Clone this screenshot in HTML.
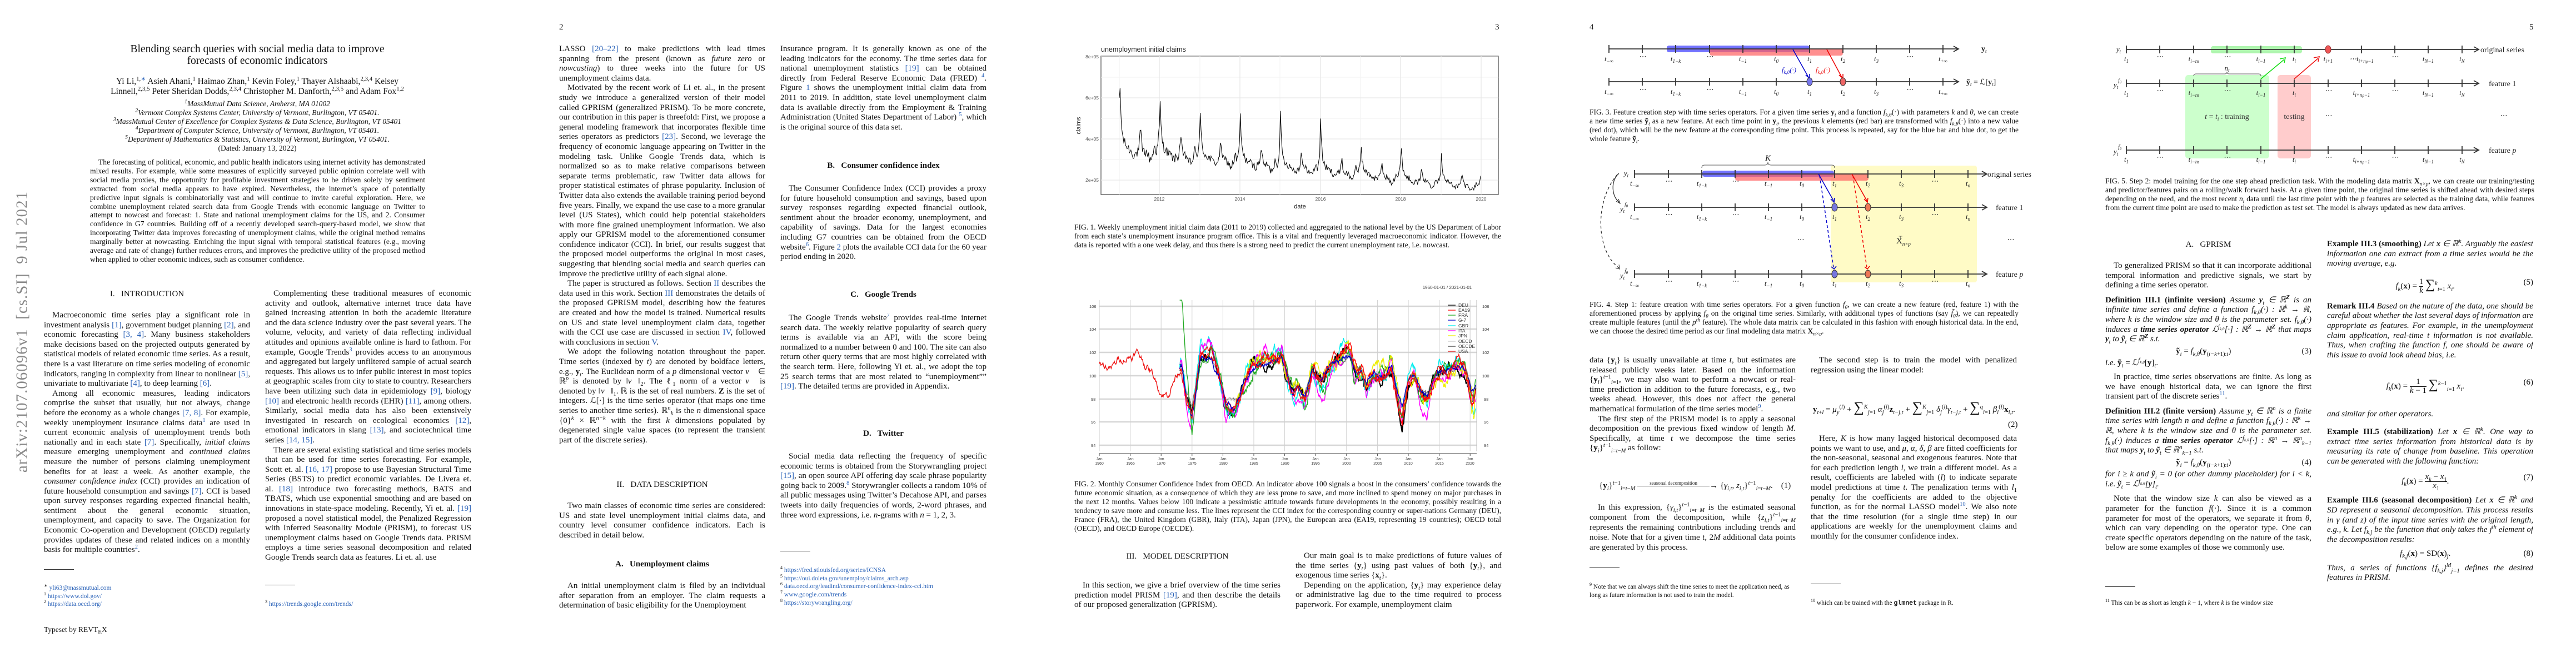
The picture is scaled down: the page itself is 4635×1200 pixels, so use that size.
<!DOCTYPE html>
<html lang="en"><head><meta charset="utf-8">
<style>
html,body{margin:0;padding:0;background:#fff;}
#pg{position:relative;width:4635px;height:1200px;overflow:hidden;background:#fff;font-family:"Liberation Serif",serif;color:#111;}
sup,sub{line-height:0;font-size:70%;}
.c{position:absolute;width:371px;font-size:15px;line-height:17.6px;text-align:justify;overflow:hidden;hyphens:auto;}
.c p{margin:0;text-indent:15px;}
.c p.n{text-indent:0;}
.h{position:absolute;width:371px;text-align:center;font-size:15px;line-height:18px;}
.hb{font-weight:bold;}
.cap{position:absolute;width:772px;font-size:13.5px;line-height:16px;text-align:justify;overflow:hidden;}
.fn{position:absolute;font-size:11.5px;line-height:14.7px;width:371px;}
.rule{position:absolute;height:1px;width:54px;background:#333;}
.pn{position:absolute;top:41px;font-size:15px;}
.b{color:#2a62b8;}
i{font-style:italic;}
.ctr{position:absolute;text-align:center;white-space:nowrap;}
.eq{position:absolute;font-size:15px;white-space:nowrap;}
svg{position:absolute;left:0;top:0;}
</style></head><body><div id="pg">

<svg id="sv" width="4635" height="1200" viewBox="0 0 4635 1200" font-family="Liberation Serif">
<!-- FIG 1 -->
<g id="f1">
<text x="1981" y="93" font-family="Liberation Sans" font-size="12.5" fill="#222">unemployment initial claims</text>
<rect x="1981" y="101" width="715" height="249" fill="#fff" stroke="#555" stroke-width="1.3"/>
<g stroke="#f2f2f2" stroke-width="1">
<line x1="1981" x2="2696" y1="139" y2="139"/><line x1="1981" x2="2696" y1="213" y2="213"/><line x1="1981" x2="2696" y1="287" y2="287"/>
<line x1="2014" x2="2014" y1="101" y2="350"/><line x1="2159" x2="2159" y1="101" y2="350"/><line x1="2303" x2="2303" y1="101" y2="350"/><line x1="2448" x2="2448" y1="101" y2="350"/><line x1="2593" x2="2593" y1="101" y2="350"/>
</g>
<g stroke="#e6e6e6" stroke-width="1.3">
<line x1="1981" x2="2696" y1="102" y2="102"/><line x1="1981" x2="2696" y1="176" y2="176"/><line x1="1981" x2="2696" y1="250" y2="250"/><line x1="1981" x2="2696" y1="324" y2="324"/>
<line x1="2086" x2="2086" y1="101" y2="350"/><line x1="2231" x2="2231" y1="101" y2="350"/><line x1="2376" x2="2376" y1="101" y2="350"/><line x1="2520" x2="2520" y1="101" y2="350"/><line x1="2665" x2="2665" y1="101" y2="350"/>
</g>
<g font-family="Liberation Sans" font-size="8.5" fill="#555" text-anchor="end">
<text x="1977" y="105">8e+05</text><text x="1977" y="179">6e+05</text><text x="1977" y="253">4e+05</text><text x="1977" y="327">2e+05</text>
</g>
<g font-family="Liberation Sans" font-size="8.5" fill="#555" text-anchor="middle">
<text x="2086" y="361">2012</text><text x="2231" y="361">2014</text><text x="2376" y="361">2016</text><text x="2520" y="361">2018</text><text x="2665" y="361">2020</text>
</g>
<text x="2339" y="375" font-family="Liberation Sans" font-size="11" text-anchor="middle" fill="#222">date</text>
<text transform="translate(1944,226) rotate(-90)" font-family="Liberation Sans" font-size="11" text-anchor="middle" fill="#222">claims</text>
<polyline id="l1" fill="none" stroke="#111" stroke-width="1.1" points=""/>
</g>

<!-- FIG 2 -->
<g id="f2">
<text x="2604" y="520" font-family="Liberation Sans" font-size="8" text-anchor="middle" fill="#333">1960-01-01 / 2021-01-01</text>
<g stroke="#d6d6d6" stroke-width="2.5">
<line x1="1977" x2="2657" y1="551" y2="551"/><line x1="1977" x2="2657" y1="592" y2="592"/><line x1="1977" x2="2657" y1="634" y2="634"/><line x1="1977" x2="2657" y1="676" y2="676"/><line x1="1977" x2="2657" y1="718" y2="718"/><line x1="1977" x2="2657" y1="759" y2="759"/><line x1="1977" x2="2657" y1="801" y2="801"/>
</g>
<g id="vg" stroke="#cfcfcf" stroke-width="1"></g>
<line x1="2657" x2="2657" y1="540" y2="812" stroke="#bbb" stroke-width="1"/>
<g font-family="Liberation Sans" font-size="7.5" fill="#444">
<text x="1960" y="554">106</text><text x="1960" y="595">104</text><text x="1960" y="637">102</text><text x="1960" y="679">100</text><text x="1963" y="721">98</text><text x="1963" y="762">96</text><text x="1963" y="804">94</text>
<text x="2667" y="554">106</text><text x="2667" y="595">104</text><text x="2667" y="637">102</text><text x="2667" y="679">100</text><text x="2670" y="721">98</text><text x="2670" y="762">96</text><text x="2670" y="804">94</text>
</g>
<line x1="1977" x2="2657" y1="816" y2="816" stroke="#444" stroke-width="1"/>
<g id="xt" font-family="Liberation Sans" font-size="7" fill="#444" text-anchor="middle">
<text x="1978" y="828">Jan</text><text x="1978" y="836">1960</text>
<text x="2034" y="828">Jan</text><text x="2034" y="836">1965</text>
<text x="2089" y="828">Jan</text><text x="2089" y="836">1970</text>
<text x="2145" y="828">Jan</text><text x="2145" y="836">1975</text>
<text x="2201" y="828">Jan</text><text x="2201" y="836">1980</text>
<text x="2256" y="828">Jan</text><text x="2256" y="836">1985</text>
<text x="2312" y="828">Jan</text><text x="2312" y="836">1990</text>
<text x="2367" y="828">Jan</text><text x="2367" y="836">1995</text>
<text x="2423" y="828">Jan</text><text x="2423" y="836">2000</text>
<text x="2479" y="828">Jan</text><text x="2479" y="836">2005</text>
<text x="2534" y="828">Jan</text><text x="2534" y="836">2010</text>
<text x="2590" y="828">Jan</text><text x="2590" y="836">2015</text>
<text x="2645" y="828">Jan</text><text x="2645" y="836">2020</text>
</g>
<g id="cci"></g>
<g font-family="Liberation Sans" font-size="8.5" fill="#333">
<line x1="2605" x2="2619" y1="549" y2="549" stroke="#000" stroke-width="1.3"/><text x="2624" y="552">DEU</text>
<line x1="2605" x2="2619" y1="558" y2="558" stroke="#f00" stroke-width="1.3"/><text x="2624" y="561">EA19</text>
<line x1="2605" x2="2619" y1="567" y2="567" stroke="#2a2" stroke-width="1.3"/><text x="2624" y="570">FRA</text>
<line x1="2605" x2="2619" y1="576" y2="576" stroke="#00c" stroke-width="1.3"/><text x="2624" y="579">G-7</text>
<line x1="2605" x2="2619" y1="586" y2="586" stroke="#0ee" stroke-width="1.3"/><text x="2624" y="589">GBR</text>
<line x1="2605" x2="2619" y1="595" y2="595" stroke="#f0f" stroke-width="1.3"/><text x="2624" y="598">ITA</text>
<line x1="2605" x2="2619" y1="604" y2="604" stroke="#ee0" stroke-width="1.3"/><text x="2624" y="607">JPN</text>
<line x1="2605" x2="2619" y1="614" y2="614" stroke="#ccc" stroke-width="1.3"/><text x="2624" y="617">OECD</text>
<line x1="2605" x2="2619" y1="623" y2="623" stroke="#777" stroke-width="1.8"/><text x="2624" y="626">OECDE</text>
<line x1="2605" x2="2619" y1="632" y2="632" stroke="#d11" stroke-width="1.3"/><text x="2624" y="635">USA</text>
</g>
</g>

<!-- FIG 3 -->
<g id="f3">
<rect x="2999" y="82" width="257" height="12" rx="4" fill="#5a5aff" opacity="0.85"/>
<rect x="3076" y="88" width="240" height="12" rx="4" fill="#ff6060" opacity="0.7"/>
<g stroke="#333" stroke-width="1.8" fill="none">
<line x1="2895" x2="3522" y1="88" y2="88"/><path d="M3515 83 L3524 88 L3515 93"/>
<path d="M2895 81v14M2955 81v14M3015 81v14M3076 81v14M3136 81v14M3196 81v14M3256 81v14M3316 81v14M3376 81v14M3436 81v14M3496 81v14"/>
<line x1="2895" x2="3522" y1="147" y2="147"/><path d="M3515 142 L3524 147 L3515 152"/>
<path d="M2895 140v14M2955 140v14M3015 140v14M3076 140v14M3136 140v14M3196 140v14M3256 140v14M3316 140v14M3376 140v14M3436 140v14M3496 140v14"/>
</g>
<line x1="3226" y1="89" x2="3254" y2="139" stroke="#00c" stroke-width="1.5"/><path d="M3249 135 L3256 141 L3256 133" stroke="#00c" fill="none" stroke-width="1.5"/>
<line x1="3287" y1="89" x2="3314" y2="139" stroke="#e00" stroke-width="1.5"/><path d="M3309 135 L3316 141 L3316 133" stroke="#e00" fill="none" stroke-width="1.5"/>
<ellipse cx="3256" cy="147" rx="5" ry="7" fill="#7777ee" stroke="#333"/><ellipse cx="3316" cy="147" rx="5" ry="7" fill="#ee6666" stroke="#333"/>
<text x="3219" y="130" font-size="13" font-style="italic" fill="#22c" text-anchor="middle">f<tspan font-size="9" dy="3">k,θ</tspan><tspan dy="-3">(·)</tspan></text>
<text x="3280" y="130" font-size="13" font-style="italic" fill="#e22" text-anchor="middle">f<tspan font-size="9" dy="3">k,θ</tspan><tspan dy="-3">(·)</tspan></text>
<g font-size="13" font-style="italic" text-anchor="middle" fill="#222">
<text x="2895" y="110">t<tspan font-size="9" dy="3">−∞</tspan></text><text x="2955" y="106">⋯</text><text x="3015" y="110">t<tspan font-size="9" dy="3">1−k</tspan></text><text x="3076" y="106">⋯</text><text x="3136" y="110">t<tspan font-size="9" dy="3">−1</tspan></text><text x="3196" y="110">t<tspan font-size="9" dy="3">0</tspan></text><text x="3256" y="110">t<tspan font-size="9" dy="3">1</tspan></text><text x="3316" y="110">t<tspan font-size="9" dy="3">2</tspan></text><text x="3376" y="110">t<tspan font-size="9" dy="3">3</tspan></text><text x="3436" y="106">⋯</text><text x="3496" y="110">t<tspan font-size="9" dy="3">+∞</tspan></text>
<text x="2895" y="169">t<tspan font-size="9" dy="3">−∞</tspan></text><text x="2955" y="165">⋯</text><text x="3015" y="169">t<tspan font-size="9" dy="3">1−k</tspan></text><text x="3076" y="165">⋯</text><text x="3136" y="169">t<tspan font-size="9" dy="3">−1</tspan></text><text x="3196" y="169">t<tspan font-size="9" dy="3">0</tspan></text><text x="3256" y="169">t<tspan font-size="9" dy="3">1</tspan></text><text x="3316" y="169">t<tspan font-size="9" dy="3">2</tspan></text><text x="3376" y="169">t<tspan font-size="9" dy="3">3</tspan></text><text x="3436" y="165">⋯</text><text x="3496" y="169">t<tspan font-size="9" dy="3">+∞</tspan></text>
</g>
<text x="3565" y="92" font-size="14" fill="#222" font-weight="bold">y<tspan font-size="9" dy="3" font-style="italic" font-weight="normal">t</tspan></text>
<text x="3538" y="152" font-size="14" fill="#222"><tspan font-weight="bold">ỹ</tspan><tspan font-size="9" dy="3" font-style="italic">t</tspan><tspan dy="-3"> = ℒ[</tspan><tspan font-weight="bold">y</tspan><tspan font-size="9" dy="3" font-style="italic">t</tspan><tspan dy="-3">]</tspan></text>
</g>

<!-- FIG 4 -->
<g id="f4">
<rect x="3294" y="298" width="263" height="210" rx="4" fill="#fffbc6"/>
<path d="M3062 302 q0 -5 5 -5 h108 q6 0 6 -5 q0 5 6 5 h109 q5 0 5 5" fill="none" stroke="#555" stroke-width="1"/>
<text x="3181" y="289" font-size="15" font-style="italic" text-anchor="middle" fill="#222">K</text>
<rect x="3063" y="307" width="237" height="11" rx="4" fill="#5a5aff" opacity="0.85"/>
<rect x="3122" y="312" width="240" height="13" rx="4" fill="#ff6060" opacity="0.7"/>
<g stroke="#333" stroke-width="1.8" fill="none">
<line x1="2941" x2="3573" y1="313" y2="313"/><path d="M3566 308 L3575 313 L3566 318"/>
<line x1="2941" x2="3573" y1="373" y2="373"/><path d="M3566 368 L3575 373 L3566 378"/>
<line x1="2941" x2="3573" y1="493" y2="493"/><path d="M3566 488 L3575 493 L3566 498"/>
<path d="M2941 306v14M3002 306v14M3062 306v14M3122 306v14M3182 306v14M3242 306v14M3301 306v14M3361 306v14M3421 306v14M3481 306v14M3541 306v14"/>
<path d="M2941 366v14M3002 366v14M3062 366v14M3122 366v14M3182 366v14M3242 366v14M3301 366v14M3361 366v14M3421 366v14M3481 366v14M3541 366v14"/>
<path d="M2941 486v14M3002 486v14M3062 486v14M3122 486v14M3182 486v14M3242 486v14M3301 486v14M3361 486v14M3421 486v14M3481 486v14M3541 486v14"/>
</g>
<line x1="3272" y1="313" x2="3299" y2="361" stroke="#00c" stroke-width="1.5"/><path d="M3294 358 L3300 364 L3301 356" stroke="#00c" fill="none" stroke-width="1.5"/>
<line x1="3332" y1="313" x2="3359" y2="361" stroke="#e00" stroke-width="1.5"/><path d="M3354 358 L3360 364 L3361 356" stroke="#e00" fill="none" stroke-width="1.5"/>
<line x1="3274" y1="316" x2="3299" y2="481" stroke="#00c" stroke-width="1.5" stroke-dasharray="5,4"/><path d="M3295 480 L3300 484 L3304 479" stroke="#00c" fill="none" stroke-width="1.5"/>
<line x1="3334" y1="316" x2="3359" y2="481" stroke="#e00" stroke-width="1.5" stroke-dasharray="5,4"/><path d="M3355 480 L3360 484 L3364 479" stroke="#e00" fill="none" stroke-width="1.5"/>
<ellipse cx="3301" cy="373" rx="5" ry="7" fill="#7777dd" stroke="#333"/><ellipse cx="3361" cy="373" rx="5" ry="7" fill="#ee7755" stroke="#333"/>
<ellipse cx="3301" cy="493" rx="5" ry="7" fill="#7777dd" stroke="#333"/><ellipse cx="3361" cy="493" rx="5" ry="7" fill="#ee7755" stroke="#333"/>
<path d="M2913 312 C2897 325 2900 355 2914 364" stroke="#222" fill="none" stroke-width="1.2"/><path d="M2908 362 L2915 366 L2912 358" stroke="#222" fill="none"/>
<path d="M2910 314 C2870 360 2870 450 2913 482" stroke="#222" fill="none" stroke-width="1.2" stroke-dasharray="5,4"/><path d="M2907 482 L2914 484 L2913 476" stroke="#222" fill="none"/>
<g font-size="13" font-style="italic" text-anchor="middle" fill="#222">
<text x="2941" y="334">t<tspan font-size="9" dy="3">−∞</tspan></text><text x="3002" y="330">⋯</text><text x="3062" y="334">t<tspan font-size="9" dy="3">1−k</tspan></text><text x="3122" y="330">⋯</text><text x="3182" y="334">t<tspan font-size="9" dy="3">−1</tspan></text><text x="3242" y="334">t<tspan font-size="9" dy="3">0</tspan></text><text x="3301" y="334">t<tspan font-size="9" dy="3">1</tspan></text><text x="3361" y="334">t<tspan font-size="9" dy="3">2</tspan></text><text x="3421" y="334">t<tspan font-size="9" dy="3">3</tspan></text><text x="3481" y="330">⋯</text><text x="3541" y="334">t<tspan font-size="9" dy="3">n</tspan></text>
<text x="2941" y="394">t<tspan font-size="9" dy="3">−∞</tspan></text><text x="3002" y="390">⋯</text><text x="3062" y="394">t<tspan font-size="9" dy="3">1−k</tspan></text><text x="3122" y="390">⋯</text><text x="3182" y="394">t<tspan font-size="9" dy="3">−1</tspan></text><text x="3242" y="394">t<tspan font-size="9" dy="3">0</tspan></text><text x="3301" y="394">t<tspan font-size="9" dy="3">1</tspan></text><text x="3361" y="394">t<tspan font-size="9" dy="3">2</tspan></text><text x="3421" y="394">t<tspan font-size="9" dy="3">3</tspan></text><text x="3481" y="390">⋯</text><text x="3541" y="394">t<tspan font-size="9" dy="3">n</tspan></text>
<text x="2941" y="514">t<tspan font-size="9" dy="3">−∞</tspan></text><text x="3002" y="510">⋯</text><text x="3062" y="514">t<tspan font-size="9" dy="3">1−k</tspan></text><text x="3122" y="510">⋯</text><text x="3182" y="514">t<tspan font-size="9" dy="3">−1</tspan></text><text x="3242" y="514">t<tspan font-size="9" dy="3">0</tspan></text><text x="3301" y="514">t<tspan font-size="9" dy="3">1</tspan></text><text x="3361" y="514">t<tspan font-size="9" dy="3">2</tspan></text><text x="3421" y="514">t<tspan font-size="9" dy="3">3</tspan></text><text x="3481" y="510">⋯</text><text x="3541" y="514">t<tspan font-size="9" dy="3">n</tspan></text>
<text x="3239" y="435">⋯</text><text x="3617" y="435">⋯</text>
<text x="2926" y="316">y<tspan font-size="9" dy="3">t</tspan></text>
<text x="2922" y="380">y<tspan font-size="9" dy="3">t</tspan><tspan font-size="9" dy="-12">f</tspan><tspan font-size="7" dy="2">θ</tspan></text>
<text x="2922" y="500">y<tspan font-size="9" dy="3">t</tspan><tspan font-size="9" dy="-12">f̃</tspan><tspan font-size="7" dy="2">θ</tspan></text>
</g>
<text x="3412" y="438" font-size="15" fill="#222">X<tspan font-size="9" dy="4" font-style="italic">n×p</tspan><tspan font-size="9" dx="-22" dy="-11">⊤</tspan></text>
<g font-size="14" fill="#222"><text x="3576" y="318">original series</text><text x="3591" y="378">feature 1</text><text x="3591" y="498">feature <tspan font-style="italic">p</tspan></text></g>
</g>

<!-- FIG 5 -->
<g id="f5">
<rect x="3978" y="83" width="164" height="13" rx="4" fill="#aef5ae"/>
<rect x="3932" y="135" width="151" height="150" rx="5" fill="#ccffcc"/>
<rect x="4098" y="135" width="60" height="150" rx="5" fill="#ffcccc"/>
<path d="M3947 137 q0 -4 4 -4 h52 q4 0 4 -4 q0 4 4 4 h53 q4 0 4 4" fill="none" stroke="#555" stroke-width="1"/>
<text x="4007" y="127" font-size="13" font-style="italic" text-anchor="middle" fill="#222">n<tspan font-size="9" dy="3">t</tspan></text>
<g stroke="#333" stroke-width="1.8" fill="none">
<line x1="3826" x2="4458" y1="89" y2="89"/><path d="M4451 84 L4460 89 L4451 94"/>
<line x1="3826" x2="4458" y1="150" y2="150"/><path d="M4451 145 L4460 150 L4451 155"/>
<line x1="3826" x2="4458" y1="270" y2="270"/><path d="M4451 265 L4460 270 L4451 275"/>
<path d="M3826 82v14M3886 82v14M3947 82v14M4007 82v14M4068 82v14M4128 82v14M4189 82v14M4249 82v14M4309 82v14M4369 82v14M4430 82v14"/>
<path d="M3826 143v14M3886 143v14M3947 143v14M4007 143v14M4068 143v14M4128 143v14M4189 143v14M4249 143v14M4309 143v14M4369 143v14M4430 143v14"/>
<path d="M3826 263v14M3886 263v14M3947 263v14M4007 263v14M4068 263v14M4128 263v14M4189 263v14M4249 263v14M4309 263v14M4369 263v14M4430 263v14"/>
</g>
<ellipse cx="4189" cy="89" rx="5" ry="7" fill="#ee5555" stroke="#933"/>
<line x1="4068" y1="142" x2="4110" y2="107" stroke="#1d1" stroke-width="1.5"/><path d="M4102 106 L4112 104 L4110 113" stroke="#1d1" fill="none" stroke-width="1.5"/>
<line x1="4128" y1="142" x2="4171" y2="105" stroke="#e11" stroke-width="1.5"/><path d="M4163 104 L4173 102 L4171 111" stroke="#e11" fill="none" stroke-width="1.5"/>
<g font-size="13" font-style="italic" text-anchor="middle" fill="#222">
<text x="3826" y="110">t<tspan font-size="9" dy="3">1</tspan></text><text x="3886" y="106">⋯</text><text x="3947" y="110">t<tspan font-size="9" dy="3">i−n<tspan font-size="7">t</tspan></tspan></text><text x="4007" y="106">⋯</text><text x="4068" y="110">t<tspan font-size="9" dy="3">i−1</tspan></text><text x="4128" y="110">t<tspan font-size="9" dy="3">i</tspan></text><text x="4189" y="110">t<tspan font-size="9" dy="3">i+1</tspan></text><text x="4249" y="110">⋯t<tspan font-size="9" dy="3">i+n<tspan font-size="7">p</tspan>−1</tspan></text><text x="4309" y="106">⋯</text><text x="4369" y="110">t<tspan font-size="9" dy="3">N−1</tspan></text><text x="4430" y="110">t<tspan font-size="9" dy="3">N</tspan></text>
<text x="3826" y="171">t<tspan font-size="9" dy="3">1</tspan></text><text x="3886" y="167">⋯</text><text x="3947" y="171">t<tspan font-size="9" dy="3">i−n<tspan font-size="7">t</tspan></tspan></text><text x="4007" y="167">⋯</text><text x="4068" y="171">t<tspan font-size="9" dy="3">i−1</tspan></text><text x="4128" y="171">t<tspan font-size="9" dy="3">i</tspan></text><text x="4189" y="167">⋯</text><text x="4249" y="171">t<tspan font-size="9" dy="3">i+n<tspan font-size="7">p</tspan>−1</tspan></text><text x="4309" y="167">⋯</text><text x="4369" y="171">t<tspan font-size="9" dy="3">N−1</tspan></text><text x="4430" y="171">t<tspan font-size="9" dy="3">N</tspan></text>
<text x="3826" y="291">t<tspan font-size="9" dy="3">1</tspan></text><text x="3886" y="287">⋯</text><text x="3947" y="291">t<tspan font-size="9" dy="3">i−n<tspan font-size="7">t</tspan></tspan></text><text x="4007" y="287">⋯</text><text x="4068" y="291">t<tspan font-size="9" dy="3">i−1</tspan></text><text x="4128" y="291">t<tspan font-size="9" dy="3">i</tspan></text><text x="4189" y="287">⋯</text><text x="4249" y="291">t<tspan font-size="9" dy="3">i+n<tspan font-size="7">p</tspan>−1</tspan></text><text x="4309" y="287">⋯</text><text x="4369" y="291">t<tspan font-size="9" dy="3">N−1</tspan></text><text x="4430" y="291">t<tspan font-size="9" dy="3">N</tspan></text>
<text x="4189" y="212">⋯</text><text x="4504" y="212">⋯</text>
<text x="3812" y="93">y<tspan font-size="9" dy="3">t</tspan></text>
<text x="3810" y="157">y<tspan font-size="9" dy="3">t</tspan><tspan font-size="9" dy="-12">f</tspan><tspan font-size="7" dy="2">θ</tspan></text>
<text x="3810" y="277">y<tspan font-size="9" dy="3">t</tspan><tspan font-size="9" dy="-12">f̃</tspan><tspan font-size="7" dy="2">θ</tspan></text>
</g>
<text x="4007" y="214" font-size="14" text-anchor="middle" fill="#333"><tspan font-style="italic">t</tspan> = <tspan font-style="italic">t<tspan font-size="9" dy="3">i</tspan></tspan><tspan dy="-3"> : training</tspan></text>
<text x="4128" y="214" font-size="14" text-anchor="middle" fill="#333">testing</text>
<g font-size="14" fill="#222"><text x="4463" y="94">original series</text><text x="4478" y="155">feature 1</text><text x="4478" y="275">feature <tspan font-style="italic">p</tspan></text></g>
</g>
</svg>

<!-- ============ PAGE 1 ============ -->
<div style="position:absolute;left:40px;top:597px;transform:translate(-50%,-50%) rotate(-90deg);font-size:29px;color:#8a8a8a;white-space:nowrap;letter-spacing:1px;">arXiv:2107.06096v1 &nbsp;[cs.SI] &nbsp;9 Jul 2021</div>
<div class="ctr" style="left:163px;width:600px;top:78px;font-size:19.5px;line-height:21px;">Blending search queries with social media data to improve<br>forecasts of economic indicators</div>
<div class="ctr" style="left:150px;width:626px;top:138px;font-size:15.5px;line-height:18px;">Yi Li,<sup>1,<span class="b">∗</span></sup> Asieh Ahani,<sup>1</sup> Haimao Zhan,<sup>1</sup> Kevin Foley,<sup>1</sup> Thayer Alshaabi,<sup>2,3,4</sup> Kelsey<br>Linnell,<sup>2,3,5</sup> Peter Sheridan Dodds,<sup>2,3,4</sup> Christopher M. Danforth,<sup>2,3,5</sup> and Adam Fox<sup>1,2</sup></div>
<div class="ctr" style="left:150px;width:626px;top:179px;font-size:13.5px;line-height:16px;font-style:italic;"><sup>1</sup>MassMutual Data Science, Amherst, MA 01002<br><sup>2</sup>Vermont Complex Systems Center, University of Vermont, Burlington, VT 05401.<br><sup>3</sup>MassMutual Center of Excellence for Complex Systems &amp; Data Science, Burlington, VT 05401<br><sup>4</sup>Department of Computer Science, University of Vermont, Burlington, VT 05401.<br><sup>5</sup>Department of Mathematics &amp; Statistics, University of Vermont, Burlington, VT 05401.<br><span style="font-style:normal">(Dated: January 13, 2022)</span></div>
<div class="c" style="left:162px;top:284px;width:603px;font-size:13.6px;line-height:15.9px;height:207px;"><p>The forecasting of political, economic, and public health indicators using internet activity has demonstrated mixed results. For example, while some measures of explicitly surveyed public opinion correlate well with social media proxies, the opportunity for profitable investment strategies to be driven solely by sentiment extracted from social media appears to have expired. Nevertheless, the internet’s space of potentially predictive input signals is combinatorially vast and will continue to invite careful exploration. Here, we combine unemployment related search data from Google Trends with economic language on Twitter to attempt to nowcast and forecast: 1. State and national unemployment claims for the US, and 2. Consumer confidence in G7 countries. Building off of a recently developed search-query-based model, we show that incorporating Twitter data improves forecasting of unemployment claims, while the original method remains marginally better at nowcasting. Enriching the input signal with temporal statistical features (e.g., moving average and rate of change) further reduces errors, and improves the predictive utility of the proposed method when applied to other economic indices, such as consumer confidence.</p></div>
<div class="h" style="left:79px;top:520px;">I.&nbsp;&nbsp; INTRODUCTION</div>
<div class="c" style="left:79px;top:559px;height:440px;"><p>Macroeconomic time series play a significant role in investment analysis <span class="b">[1]</span>, government budget planning <span class="b">[2]</span>, and economic forecasting <span class="b">[3, 4]</span>. Many business stakeholders make decisions based on the projected outputs generated by statistical models of related economic time series. As a result, there is a vast literature on time series modeling of economic indicators, ranging in complexity from linear to nonlinear <span class="b">[5]</span>, univariate to multivariate <span class="b">[4]</span>, to deep learning <span class="b">[6]</span>.</p><p>Among all economic measures, leading indicators comprise the subset that usually, but not always, change before the economy as a whole changes <span class="b">[7, 8]</span>. For example, weekly unemployment insurance claims data<sup class="b">1</sup> are used in current economic analysis of unemployment trends both nationally and in each state <span class="b">[7]</span>. Specifically, <i>initial claims</i> measure emerging unemployment and <i>continued claims</i> measure the number of persons claiming unemployment benefits for at least a week. As another example, the <i>consumer confidence index</i> (CCI) provides an indication of future household consumption and savings <span class="b">[7]</span>. CCI is based upon survey responses regarding expected financial health, sentiment about the general economic situation, unemployment, and capacity to save. The Organization for Economic Co-operation and Development (OECD) regularly provides updates of these and related indices on a monthly basis for multiple countries<sup class="b">2</sup>.</p></div>
<div class="rule" style="left:79px;top:1024px;"></div>
<div class="fn" style="left:79px;top:1051px;"><sup>∗</sup> <span class="b">yli63@massmutual.com</span><br><sup>1</sup> <span class="b">https://www.dol.gov/</span><br><sup>2</sup> <span class="b">https://data.oecd.org/</span></div>
<div style="position:absolute;left:79px;top:1125px;font-size:13.5px;">Typeset by REVT<sub style="font-size:11px">E</sub>X</div>
<div class="c" style="left:477px;top:520px;height:510px;"><p>Complementing these traditional measures of economic activity and outlook, alternative internet trace data have gained increasing attention in both the academic literature and the data science industry over the past several years. The volume, velocity, and variety of data reflecting individual attitudes and opinions available online is hard to fathom. For example, Google Trends<sup class="b">3</sup> provides access to an anonymous and aggregated but largely unfiltered sample of actual search requests. This allows us to infer public interest in most topics at geographic scales from city to state to country. Researchers have been utilizing such data in epidemiology <span class="b">[9]</span>, biology <span class="b">[10]</span> and electronic health records (EHR) <span class="b">[11]</span>, among others. Similarly, social media data has also been extensively investigated in research on ecological economics <span class="b">[12]</span>, emotional indicators in slang <span class="b">[13]</span>, and sociotechnical time series <span class="b">[14, 15]</span>.</p><p>There are several existing statistical and time series models that can be used for time series forecasting. For example, Scott et. al. <span class="b">[16, 17]</span> propose to use Bayesian Structural Time Series (BSTS) to predict economic variables. De Livera et. al. <span class="b">[18]</span> introduce two forecasting methods, BATS and TBATS, which use exponential smoothing and are based on innovations in state-space modeling. Recently, Yi et. al. <span class="b">[19]</span> proposed a novel statistical model, the Penalized Regression with Inferred Seasonality Module (PRISM), to forecast US unemployment claims based on Google Trends data. PRISM employs a time series seasonal decomposition and related Google Trends search data as features. Li et. al. use</p></div>
<div class="rule" style="left:477px;top:1052px;"></div>
<div class="fn" style="left:477px;top:1080px;"><sup>3</sup> <span class="b">https://trends.google.com/trends/</span></div>

<!-- ============ PAGE 2 ============ -->
<div class="pn" style="left:1006px;">2</div>
<div class="c" style="left:1006px;top:80px;height:739px;"><p class="n">LASSO <span class="b">[20–22]</span> to make predictions with lead times spanning from the present (known as <i>future zero</i> or <i>nowcasting</i>) to three weeks into the future for US unemployment claims data.</p><p>Motivated by the recent work of Li et. al., in the present study we introduce a generalized version of their model called GPRISM (generalized PRISM). To be more concrete, our contribution in this paper is threefold: First, we propose a general modeling framework that incorporates flexible time series operators as predictors <span class="b">[23]</span>. Second, we leverage the frequency of economic language appearing on Twitter in the modeling task. Unlike Google Trends data, which is normalized so as to make relative comparisons between separate terms problematic, raw Twitter data allows for proper statistical estimates of phrase popularity. Inclusion of Twitter data also extends the available training period beyond five years. Finally, we expand the use case to a more granular level (US States), which could help potential stakeholders with more fine grained unemployment information. We also apply our GPRISM model to the aforementioned consumer confidence indicator (CCI). In brief, our results suggest that the proposed model outperforms the original in most cases, suggesting that blending social media and search queries can improve the predictive utility of each signal alone.</p><p>The paper is structured as follows. Section <span class="b">II</span> describes the data used in this work. Section <span class="b">III</span> demonstrates the details of the proposed GPRISM model, describing how the features are created and how the model is trained. Numerical results on US and state level unemployment claim data, together with the CCI use case are discussed in section <span class="b">IV</span>, followed with conclusions in section <span class="b">V</span>.</p><p>We adopt the following notation throughout the paper. Time series (indexed by <i>t</i>) are denoted by boldface letters, e.g., <b>y</b><sub><i>t</i></sub>. The Euclidean norm of a <i>p</i> dimensional vector <i>v⃗</i> ∈ ℝ<sup><i>p</i></sup> is denoted by ‖<i>v⃗</i>‖<sub>2</sub>. The ℓ<sub>1</sub> norm of a vector <i>v⃗</i> is denoted by ‖<i>v⃗</i>‖<sub>1</sub>. ℝ is the set of real numbers. <b>Z</b> is the set of integers. ℒ[·] is the time series operator (that maps one time series to another time series). ℝ<sup><i>n</i></sup><sub><i>k</i></sub> is the <i>n</i> dimensional space {0}<sup><i>k</i></sup> × ℝ<sup><i>n−k</i></sup> with the first <i>k</i> dimensions populated by degenerated single value spaces (to represent the transient part of the discrete series).</p></div>
<div class="h" style="left:1006px;top:863px;">II.&nbsp;&nbsp; DATA DESCRIPTION</div>
<div class="c" style="left:1006px;top:902px;height:71px;"><p>Two main classes of economic time series are considered: US and state level unemployment initial claims data, and country level consumer confidence indicators. Each is described in detail below.</p></div>
<div class="h hb" style="left:1006px;top:1006px;">A.&nbsp;&nbsp; Unemployment claims</div>
<div class="c" style="left:1006px;top:1046px;height:53px;"><p>An initial unemployment claim is filed by an individual after separation from an employer. The claim requests a determination of basic eligibility for the Unemployment</p></div>
<div class="c" style="left:1404px;top:80px;height:159px;"><p class="n">Insurance program. It is generally known as one of the leading indicators for the economy. The time series data for national unemployment statistics <span class="b">[19]</span> can be obtained directly from Federal Reserve Economic Data (FRED) <sup class="b">4</sup>. Figure <span class="b">1</span> shows the unemployment initial claim data from 2011 to 2019. In addition, state level unemployment claim data is available directly from the Employment &amp; Training Administration (United States Department of Labor) <sup class="b">5</sup>, which is the original source of this data set.</p></div>
<div class="h hb" style="left:1404px;top:289px;">B.&nbsp;&nbsp; Consumer confidence index</div>
<div class="c" style="left:1404px;top:331px;height:141px;"><p>The Consumer Confidence Index (CCI) provides a proxy for future household consumption and savings, based upon survey responses regarding expected financial outlook, sentiment about the broader economy, unemployment, and capability of savings. Data for the largest economies including G7 countries can be obtained from the OECD website<sup class="b">6</sup>. Figure <span class="b">2</span> plots the available CCI data for the 60 year period ending in 2020.</p></div>
<div class="h hb" style="left:1404px;top:521px;">C.&nbsp;&nbsp; Google Trends</div>
<div class="c" style="left:1404px;top:564px;height:159px;"><p>The Google Trends website<sup class="b">7</sup> provides real-time internet search data. The weekly relative popularity of search query terms is available via an API, with the score being normalized to a number between 0 and 100. The site can also return other query terms that are most highly correlated with the search term. Here, following Yi et. al., we adopt the top 25 search terms that are most related to “unemployment”” <span class="b">[19]</span>. The detailed terms are provided in Appendix.</p></div>
<div class="h hb" style="left:1404px;top:771px;">D.&nbsp;&nbsp; Twitter</div>
<div class="c" style="left:1404px;top:813px;height:141px;"><p>Social media data reflecting the frequency of specific economic terms is obtained from the Storywrangling project <span class="b">[15]</span>, an open source API offering day scale phrase popularity going back to 2009.<sup class="b">8</sup> Storywrangler collects a random 10% of all public messages using Twitter’s Decahose API, and parses tweets into daily frequencies of words, 2-word phrases, and three word expressions, i.e. <i>n</i>-grams with <i>n</i> = 1, 2, 3.</p></div>
<div class="rule" style="left:1404px;top:991px;"></div>
<div class="fn" style="left:1404px;top:1019px;"><sup>4</sup> <span class="b">https://fred.stlouisfed.org/series/ICNSA</span><br><sup>5</sup> <span class="b">https://oui.doleta.gov/unemploy/claims_arch.asp</span><br><sup>6</sup> <span class="b">data.oecd.org/leadind/consumer-confidence-index-cci.htm</span><br><sup>7</sup> <span class="b">www.google.com/trends</span><br><sup>8</sup> <span class="b">https://storywrangling.org/</span></div>

<!-- ============ PAGE 3 ============ -->
<div class="pn" style="left:2690px;">3</div>
<div class="cap" style="left:1933px;top:401px;width:768px;height:64px;">FIG. 1. Weekly unemployment initial claim data (2011 to 2019) collected and aggregated to the national level by the US Department of Labor from each state’s unemployment insurance program office. This is a vital and frequently leveraged macroeconomic indicator. However, the data is reported with a one week delay, and thus there is a strong need to predict the current unemployment rate, i.e. nowcast.</div>
<div class="cap" style="left:1933px;top:863px;width:768px;height:96px;">FIG. 2. Monthly Consumer Confidence Index from OECD. An indicator above 100 signals a boost in the consumers’ confidence towards the future economic situation, as a consequence of which they are less prone to save, and more inclined to spend money on major purchases in the next 12 months. Values below 100 indicate a pessimistic attitude towards future developments in the economy, possibly resulting in a tendency to save more and consume less. The lines represent the CCI index for the corresponding country or super-nations Germany (DEU), France (FRA), the United Kingdom (GBR), Italy (ITA), Japan (JPN), the European area (EA19, representing 19 countries); OECD total (OECD), and OECD Europe (OECDE).</div>
<div class="h" style="left:1933px;top:992px;">III.&nbsp;&nbsp; MODEL DESCRIPTION</div>
<div class="c" style="left:1933px;top:1045px;height:53px;"><p>In this section, we give a brief overview of the time series prediction model PRISM <span class="b">[19]</span>, and then describe the details of our proposed generalization (GPRISM).</p></div>
<div class="c" style="left:2331px;top:992px;height:106px;"><p>Our main goal is to make predictions of future values of the time series {<b>y</b><sub><i>t</i></sub>} using past values of both {<b>y</b><sub><i>t</i></sub>}, and exogenous time series {<b>x</b><sub><i>t</i></sub>}.</p><p>Depending on the application, {<b>y</b><sub><i>t</i></sub>} may experience delay or administrative lag due to the time required to process paperwork. For example, unemployment claim</p></div>

<!-- ============ PAGE 4 ============ -->
<div class="pn" style="left:2860px;">4</div>
<div class="cap" style="left:2860px;top:194px;height:64px;">FIG. 3. Feature creation step with time series operators. For a given time series <b>y</b><sub><i>t</i></sub> and a function <i>f</i><sub><i>k,θ</i></sub>(·) with parameters <i>k</i> and <i>θ</i>, we can create a new time series <b>ỹ</b><sub><i>t</i></sub> as a new feature. At each time point in <b>y</b><sub><i>t</i></sub>, the previous <i>k</i> elements (red bar) are transformed with <i>f</i><sub><i>k,θ</i></sub>(·) into a new value (red dot), which will be the new feature at the corresponding time point. This process is repeated, say for the blue bar and blue dot, to get the whole feature <b>ỹ</b><sub><i>t</i></sub>.</div>
<div class="cap" style="left:2860px;top:540px;height:64px;">FIG. 4. Step 1: feature creation with time series operators. For a given function <i>f</i><sub><i>θ</i></sub>, we can create a new feature (red, feature 1) with the aforementioned process by applying <i>f</i><sub><i>θ</i></sub> on the original time series. Similarly, with additional types of functions (say <i>f̃</i><sub><i>θ̃</i></sub>), we can repeatedly create multiple features (until the <i>p</i><sup><i>th</i></sup> feature). The whole data matrix can be calculated in this fashion with enough historical data. In the end, we can choose the desired time period as our final modeling data matrix <b>X</b><sub><i>n×p</i></sub>.</div>
<div class="c" style="left:2860px;top:640px;height:194px;"><p class="n">data {<b>y</b><sub><i>t</i></sub>} is usually unavailable at time <i>t</i>, but estimates are released publicly weeks later. Based on the information {<b>y</b><sub><i>i</i></sub>}<sup><i>t</i>−1</sup><sub><i>i</i>=1</sub>, we may also want to perform a nowcast or real-time prediction in addition to the future forecasts, e.g., two weeks ahead. However, this does not affect the general mathematical formulation of the time series model<sup class="b">9</sup>.</p><p>The first step of the PRISM model is to apply a seasonal decomposition on the previous fixed window of length <i>M</i>. Specifically, at time <i>t</i> we decompose the time series {<b>y</b><sub><i>i</i></sub>}<sup><i>t</i>−1</sup><sub><i>i</i>=<i>t</i>−<i>M</i></sub> as follow:</p></div>
<div class="eq" style="left:2877px;top:864px;">{<b>y</b><sub><i>i</i></sub>}<sup><i>t</i>−1</sup><sub><i>i</i>=<i>t</i>−<i>M</i></sub> <span style="display:inline-block;width:130px;border-bottom:1px solid #222;font-size:9px;text-align:center;vertical-align:6px;">seasonal decomposition</span>→ {<i>γ</i><sub><i>i,t</i></sub>, <i>z</i><sub><i>i,t</i></sub>}<sup><i>t</i>−1</sup><sub><i>i</i>=<i>t</i>−<i>M</i></sub>.&nbsp;&nbsp;&nbsp; (1)</div>
<div class="c" style="left:2860px;top:904px;height:90px;line-height:18px;"><p>In this expression, {<i>γ</i><sub><i>i,t</i></sub>}<sup><i>t</i>−1</sup><sub><i>i</i>=<i>t</i>−<i>M</i></sub> is the estimated seasonal component from the decomposition, while {<i>z</i><sub><i>i,t</i></sub>}<sup><i>t</i>−1</sup><sub><i>i</i>=<i>t</i>−<i>M</i></sub> represents the remaining contributions including trends and noise. Note that for a given time <i>t</i>, 2<i>M</i> additional data points are generated by this process.</p></div>
<div class="rule" style="left:2860px;top:1021px;"></div>
<div class="fn" style="left:2860px;top:1049px;"><sup>9</sup> Note that we can always shift the time series to meet the application need, as long as future information is not used to train the model.</div>
<div class="c" style="left:3258px;top:640px;height:36px;"><p>The second step is to train the model with penalized regression using the linear model:</p></div>
<div class="eq" style="left:3262px;top:718px;font-size:15px;"><b>y</b><sub><i>t</i>+<i>l</i></sub> = <i>μ</i><sub><i>y</i></sub><sup>(<i>l</i>)</sup> + <span style="font-size:26px">∑</span><sup><i>K</i></sup><sub><i>j</i>=1</sub> <i>α</i><sub><i>j</i></sub><sup>(<i>l</i>)</sup><b>z</b><sub><i>t−j,t</i></sub> + <span style="font-size:26px">∑</span><sup><i>K</i></sup><sub><i>j</i>=1</sub> <i>δ</i><sub><i>j</i></sub><sup>(<i>l</i>)</sup><i>γ</i><sub><i>t−j,t</i></sub> + <span style="font-size:26px">∑</span><sup><i>q</i></sup><sub><i>i</i>=1</sub> <i>β</i><sub><i>i</i></sub><sup>(<i>l</i>)</sup><b>x</b><sub><i>i,t</i></sub>.</div>
<div class="eq" style="left:3613px;top:756px;">(2)</div>
<div class="c" style="left:3258px;top:781px;height:212px;"><p>Here, <i>K</i> is how many lagged historical decomposed data points we want to use, and <i>μ</i>, <i>α</i>, <i>δ</i>, <i>β</i> are fitted coefficients for the non-seasonal, seasonal and exogenous features. Note that for each prediction length <i>l</i>, we train a different model. As a result, coefficients are labeled with (<i>l</i>) to indicate separate model predictions at time <i>t</i>. The penalization terms with <i>l</i><sub>1</sub> penalty for the coefficients are added to the objective function, as for the normal LASSO model<sup class="b">10</sup>. We also note that the time resolution (for a single time step) in our applications are weekly for the unemployment claims and monthly for the consumer confidence index.</p></div>
<div class="rule" style="left:3258px;top:1050px;"></div>
<div class="fn" style="left:3258px;top:1078px;"><sup>10</sup> which can be trained with the <span style="font-family:'Liberation Mono';font-weight:bold">glmnet</span> package in R.</div>

<!-- ============ PAGE 5 ============ -->
<div class="pn" style="left:4551px;">5</div>
<div class="cap" style="left:3788px;top:318px;height:80px;">FIG. 5. Step 2: model training for the one step ahead prediction task. With the modeling data matrix <b>X</b><sub><i>n×p</i></sub>, we can create our training/testing and predictor/features pairs on a rolling/walk forward basis. At a given time point, the original time series is shifted ahead with desired steps depending on the need, and the most recent <i>n</i><sub><i>t</i></sub> data until the last time point with the <i>p</i> features are selected as the training data, while features from the current time point are used to make the prediction as test set. The model is always updated as new data arrives.</div>
<div class="h" style="left:3788px;top:431px;">A.&nbsp;&nbsp; GPRISM</div>
<div class="c" style="left:3788px;top:470px;height:620px;"><p>To generalized PRISM so that it can incorporate additional temporal information and predictive signals, we start by defining a time series operator.</p>
<p class="n" style="margin-top:9px"><b>Definition III.1 (infinite version)</b> <i>Assume <b>y</b><sub>t</sub> ∈ ℝ<sup><b>Z</b></sup> is an infinite time series and define a function f<sub>k,θ</sub>(·) : ℝ<sup>k</sup> → ℝ, where k is the window size and θ is the parameter set. f<sub>k,θ</sub>(·) induces a <b>time series operator</b> ℒ<sup>f<sub>k,θ</sub></sup>[·] : ℝ<sup><b>Z</b></sup> → ℝ<sup><b>Z</b></sup> that maps <b>y</b><sub>t</sub> to <b>ỹ</b><sub>t</sub> ∈ ℝ<sup><b>Z</b></sup> s.t.</i></p>
<p class="n" style="text-align:center;margin:4px 0 4px 0;"><b>ỹ</b><sub><i>i</i></sub> = <i>f</i><sub><i>k,θ</i></sub>(<b>y</b><sub>(<i>i−k</i>+1):<i>i</i></sub>)<span style="float:right">(3)</span></p>
<p class="n"><i>i.e.</i> <b>ỹ</b><sub><i>t</i></sub> = ℒ<sup><i>f</i><sub><i>k,θ</i></sub></sup>[<b>y</b>]<sub><i>t</i></sub>.</p>
<p style="margin-top:7px">In practice, time series observations are finite. As long as we have enough historical data, we can ignore the first transient part of the discrete series<sup class="b">11</sup>.</p>
<p class="n" style="margin-top:9px"><b>Definition III.2 (finite version)</b> <i>Assume <b>y</b><sub>t</sub> ∈ ℝ<sup>n</sup> is a finite time series with length n and define a function f<sub>k,θ</sub>(·) : ℝ<sup>k</sup> → ℝ, where k is the window size and θ is the parameter set. f<sub>k,θ</sub>(·) induces a <b>time series operator</b> ℒ<sup>f<sub>k,θ</sub></sup>[·] : ℝ<sup>n</sup> → ℝ<sup>n</sup><sub>k−1</sub> that maps <b>y</b><sub>t</sub> to <b>ỹ</b><sub>t</sub> ∈ ℝ<sup>n</sup><sub>k−1</sub> s.t.</i></p>
<p class="n" style="text-align:center;margin:4px 0 4px 0;"><b>ỹ</b><sub><i>i</i></sub> = <i>f</i><sub><i>k,θ</i></sub>(<b>y</b><sub>(<i>i−k</i>+1):<i>i</i></sub>)<span style="float:right">(4)</span></p>
<p class="n"><i>for i ≥ k and <b>ỹ</b><sub>i</sub> = 0 (or other dummy placeholder) for i &lt; k, i.e. <b>ỹ</b><sub>t</sub> = ℒ<sup>f<sub>k,θ</sub></sup>[<b>y</b>]<sub>t</sub>.</i></p>
<p style="margin-top:9px">Note that the window size <i>k</i> can also be viewed as a parameter for the function <i>f</i>(·). Since it is a common parameter for most of the operators, we separate it from <i>θ</i>, which can vary depending on the operator type. One can create specific operators depending on the nature of the task, below are some examples of those we commonly use.</p></div>
<div class="rule" style="left:3788px;top:1055px;"></div>
<div class="fn" style="left:3788px;top:1078px;"><sup>11</sup> This can be as short as length <i>k</i> − 1, where <i>k</i> is the window size</div>
<div class="c" style="left:4187px;top:431px;height:660px;"><p class="n"><b>Example III.3 (smoothing)</b> <i>Let <b>x</b> ∈ ℝ<sup>k</sup>. Arguably the easiest information one can extract from a time series would be the moving average, e.g.</i></p>
<p class="n" style="text-align:center;margin:16px 0 12px 0;"><i>f</i><sub><i>k</i></sub>(<b>x</b>) = <span style="display:inline-block;text-align:center;vertical-align:middle;line-height:15px">1<br><span style="border-top:1px solid #111;display:block"><i>k</i></span></span> <span style="font-size:24px">∑</span><sup><i>k</i></sup><sub><i>i</i>=1</sub> <i>x</i><sub><i>i</i></sub>.<span style="float:right">(5)</span></p>
<p class="n"><b>Remark III.4</b> <i>Based on the nature of the data, one should be careful about whether the last several days of information are appropriate as features. For example, in the unemployment claim application, real-time t information is not available. Thus, when crafting the function f, one should be aware of this issue to avoid look ahead bias, i.e.</i></p>
<p class="n" style="text-align:center;margin:32px 0 26px 0;"><i>f</i><sub><i>k</i></sub>(<b>x</b>) = <span style="display:inline-block;text-align:center;vertical-align:middle;line-height:15px">1<br><span style="border-top:1px solid #111;display:block"><i>k</i> − 1</span></span> <span style="font-size:24px">∑</span><sup><i>k</i>−1</sup><sub><i>i</i>=1</sub> <i>x</i><sub><i>i</i></sub>.<span style="float:right">(6)</span></p>
<p class="n"><i>and similar for other operators.</i></p>
<p class="n" style="margin-top:14px"><b>Example III.5 (stabilization)</b> <i>Let <b>x</b> ∈ ℝ<sup>k</sup>. One way to extract time series information from historical data is by measuring its rate of change from baseline. This operation can be generated with the following function:</i></p>
<p class="n" style="text-align:center;margin:12px 0 10px 0;"><i>f</i><sub><i>k</i></sub>(<b>x</b>) = <span style="display:inline-block;text-align:center;vertical-align:middle;line-height:15px"><i>x</i><sub><i>k</i></sub> − <i>x</i><sub>1</sub><br><span style="border-top:1px solid #111;display:block"><i>x</i><sub>1</sub></span></span>.<span style="float:right">(7)</span></p>
<p class="n"><b>Example III.6 (seasonal decomposition)</b> <i>Let <b>x</b> ∈ ℝ<sup>k</sup> and SD represent a seasonal decomposition. This process results in γ (and z) of the input time series with the original length, e.g., k. Let f<sub>k,j</sub> be the function that only takes the j<sup>th</sup> element of the decomposition results:</i></p>
<p class="n" style="text-align:center;margin:8px 0 8px 0;"><i>f</i><sub><i>k,j</i></sub>(<b>x</b>) = SD(<b>x</b>)<sub><i>j</i></sub>.<span style="float:right">(8)</span></p>
<p class="n"><i>Thus, a series of functions {f<sub>k,j</sub>}<sup>M</sup><sub>j=1</sub> defines the desired features in PRISM.</i></p></div>

</div>
<script>
(function(){
var s=1234567;function R(){s=(s*1103515245+12345)%2147483648;return s/2147483648;}
var NS="http://www.w3.org/2000/svg";
var pts=[],n=470;
var peaks={2011:780000,2012:645000,2013:555000,2014:535000,2015:530000,2016:500000,2017:415000,2018:405000,2019:350000,2020:320000};
for(var i=0;i<n;i++){
 var t=2011+i/52.18, yr=Math.floor(t), f=t-yr, w=f*52.18;
 var base=352000-20500*(t-2011);
 var v=base;
 var A=(peaks[yr]||300000)-base;
 v+=A*Math.exp(-w/1.3)*(w<0.6?0.75+w*0.4:1)+0.28*A*Math.exp(-w/5);
 if(i==0)v=580000;
 var An=(peaks[yr+1]||320000)-(352000-20500*(yr+1-2011));
 if(w>47)v+=0.45*An*Math.pow((w-47)/5.2,2);
 v+=0.28*base*Math.exp(-Math.pow((w-27.5)/1.6,2));
 v+=0.12*base*Math.exp(-Math.pow((w-46)/1.2,2));
 v-=0.10*base*Math.exp(-Math.pow((w-40)/3,2));
 v-=0.06*base*Math.exp(-Math.pow((w-19)/5,2));
 v+=(R()-0.5)*2*0.07*base;
 var x=2014+(t-2011)*72.35, y=324.5-(v-200000)*74/200000;
 pts.push(x.toFixed(1)+","+y.toFixed(1));
}
document.getElementById("l1").setAttribute("points",pts.join(" "));
var vg=document.getElementById("vg");
for(var yr=1960;yr<=2020;yr+=5){var x=1978+(yr-1960)*11.12;var l=document.createElementNS(NS,"line");l.setAttribute("x1",x);l.setAttribute("x2",x);l.setAttribute("y1",540);l.setAttribute("y2",812);vg.appendChild(l);
 var tk=document.createElementNS(NS,"line");tk.setAttribute("x1",x);tk.setAttribute("x2",x);tk.setAttribute("y1",816);tk.setAttribute("y2",820);tk.setAttribute("stroke","#444");vg.appendChild(tk);}
var K=[[1960,101.2],[1962,100.6],[1964,101.8],[1966,102.1],[1968,100.7],[1970,98.8],[1971,98.5],[1972.5,100.3],[1973.3,101],[1974,98.5],[1975,96.3],[1976.3,101.5],[1977,101.8],[1978.2,102],[1979.3,100],[1980.5,97.3],[1982,97],[1983,98.5],[1984.5,100.3],[1986.5,101.3],[1988,101.3],[1989.5,101.6],[1990.5,100],[1991.3,98.6],[1992.2,99.2],[1993.2,97.8],[1994.5,100.5],[1996,99.5],[1997.5,101],[1999.5,101.8],[2000.3,102.2],[2001.5,100.3],[2002.5,100.3],[2003.2,99],[2004.5,100.3],[2006,100.2],[2007.3,100.8],[2008.3,98.2],[2009,96.7],[2010,99.5],[2011,99.8],[2012,98.3],[2013,98],[2014,99.5],[2015,100.3],[2016.5,100.6],[2018,101.2],[2019.2,100.6],[2020.2,98.3],[2020.6,98.2],[2021,99]];
function C(t){for(var j=0;j<K.length-1;j++){if(t<=K[j+1][0]){var a=K[j],b=K[j+1];return a[1]+(b[1]-a[1])*(t-a[0])/(b[0]-a[0]);}}return K[K.length-1][1];}
var ser=[["#777",1973,0.8,0.5,1.7],["#ccc",1973,0.8,0.4,1.3],["#000",1973,1.1,1.1,2],["#0ee",1973,1.3,1.3,1.4],["#f0f",1973,1.3,1.2,1.4],["#2a2",1973,1.2,1.3,1.4],["#ee0",1982,0.9,1.3,1.4],["#f00",1973,1.1,1.0,1.4],["#00c",1973,0.9,0.6,1.5],["#e11",1960,1.0,0.8,1.4]];
var g=document.getElementById("cci");
ser.forEach(function(sp,k){
 var e=0,p=[];
 for(var t=sp[1];t<=2020.95;t+=1/12){
  e=0.93*e+(R()-0.5)*0.55*sp[3];
  var v=100+(C(t)-100)*sp[2]+e;
  if(sp[0]=="#2a2"&&t<1975)v+=(1975-t)*3.5;
  if(sp[0]=="#ee0"&&t>2020.2&&t<2020.7)v-=2.5;
  var x=1978+(t-1960)*11.12,y=676-(v-100)*20.8;
  if(y<540)y=540;
  p.push(x.toFixed(1)+","+y.toFixed(1));
 }
 var pl=document.createElementNS(NS,"polyline");pl.setAttribute("points",p.join(" "));pl.setAttribute("fill","none");pl.setAttribute("stroke",sp[0]);pl.setAttribute("stroke-width",sp[4]);g.appendChild(pl);
});
})();
</script>
</body></html>
